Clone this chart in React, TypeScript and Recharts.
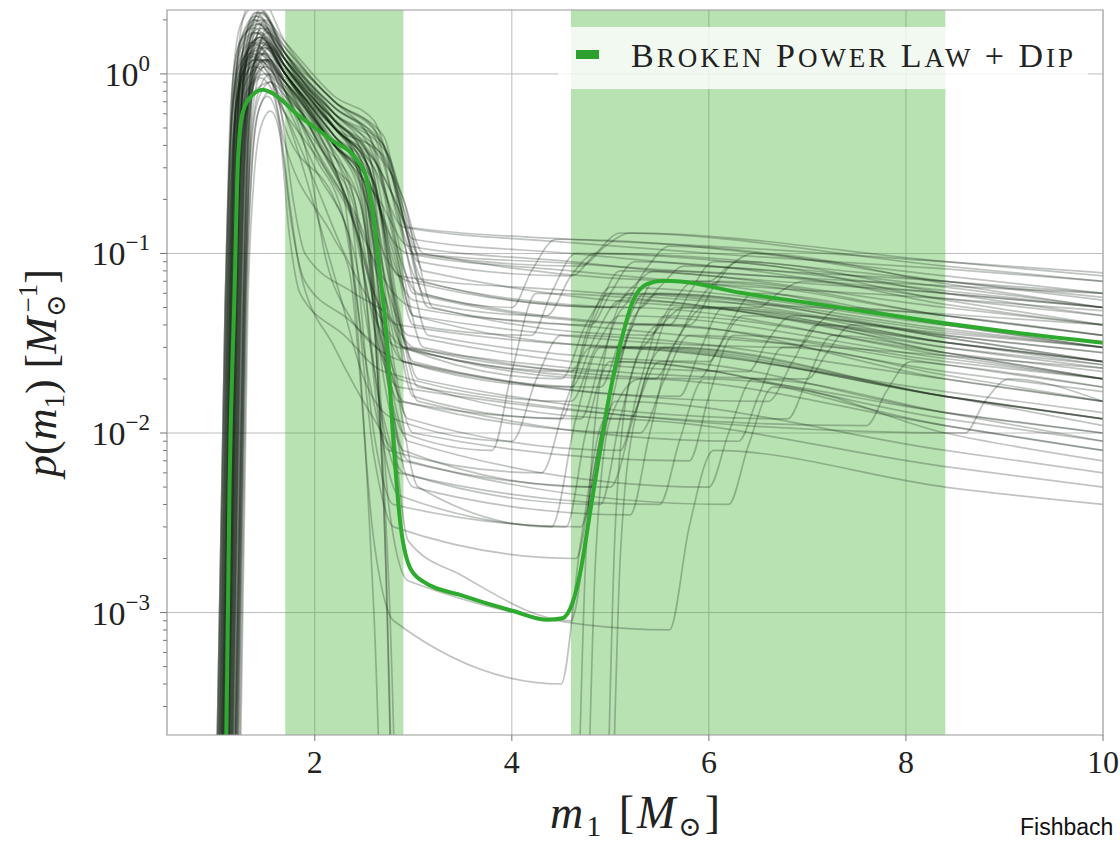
import React from 'react';
import { ComposedChart, Line, XAxis, YAxis, ReferenceArea, ReferenceLine } from 'recharts';

const X_DOMAIN = [0.5, 10];
const Y_DOMAIN = [2.08e-4, 2.27];
const X_TICKS = [2, 4, 6, 8, 10];
const X_GRID = [2, 4, 6, 8];
const Y_MAJOR = [1e-3, 1e-2, 1e-1, 1];
const Y_MINOR = [3e-4, 4e-4, 5e-4, 6e-4, 7e-4, 8e-4, 9e-4, 2e-3, 3e-3, 4e-3, 5e-3, 6e-3, 7e-3, 8e-3, 9e-3,
  0.02, 0.03, 0.04, 0.05, 0.06, 0.07, 0.08, 0.09, 0.2, 0.3, 0.4, 0.5, 0.6, 0.7, 0.8, 0.9, 2];
const BAND_LOW = [1.7, 2.9];
const BAND_HIGH = [4.6, 8.4];

// main model curve (Broken Power Law + Dip)
const greenCurve = [
  [1.08, 1e-5], [1.102, 2e-4], [1.135, 5.2e-3], [1.186, 0.062], [1.22, 0.33], [1.268, 0.61], [1.369, 0.764],
  [1.471, 0.815], [1.542, 0.794], [1.847, 0.58], [2.183, 0.424], [2.427, 0.332], [2.529, 0.257], [2.59, 0.166],
  [2.66, 0.079], [2.732, 0.033], [2.793, 0.0098], [2.864, 0.0033], [2.966, 0.00178], [3.098, 0.00149],
  [3.505, 0.00124], [4.013, 0.00102], [4.36, 0.000912], [4.513, 0.00093], [4.615, 0.00113], [4.696, 0.00169],
  [4.798, 0.00373], [4.97, 0.014], [5.1, 0.031], [5.234, 0.0551], [5.376, 0.0677], [5.539, 0.0704],
  [5.712, 0.0697], [6.32, 0.0604], [7.005, 0.0531], [7.677, 0.0467], [8.359, 0.0411], [9.04, 0.0366], [10, 0.0318],
];

// posterior draws
const d01 = [[1.00,1e-4],[1.09,0.05],[1.15,0.72],[1.23,1.44],[1.38,1.8],[1.7,1.1],[2.2,0.55],[2.4,0.35],[2.65,0.05],[2.85,0.02],[5.2,0.012],[5.4,0.024],[5.65,0.05],[8.4,0.032],[10,0.025]];
const d02 = [[1.02,1e-4],[1.11,0.05],[1.17,0.96],[1.25,1.9],[1.40,2.4],[1.7,1.3],[2.2,0.6],[2.55,0.4],[2.8,0.15],[3.0,0.06],[5.6,0.04],[5.8,0.06],[6.05,0.09],[8.4,0.055],[10,0.04]];
const d03 = [[1.04,1e-4],[1.13,0.05],[1.19,0.6],[1.27,1.2],[1.42,1.5],[1.7,1.0],[2.2,0.45],[2.45,0.3],[2.7,0.02],[2.9,0.008],[4.8,0.005],[5.0,0.014],[5.25,0.04],[8.4,0.024],[10,0.018]];
const d04 = [[1.05,1e-4],[1.14,0.05],[1.20,0.8],[1.28,1.6],[1.45,2.0],[1.7,1.4],[2.2,0.7],[2.65,0.45],[2.9,0.2],[3.1,0.1],[6.0,0.07],[6.2,0.085],[6.45,0.1],[8.4,0.068],[10,0.05]];
const d05 = [[1.06,1e-4],[1.15,0.05],[1.21,0.48],[1.29,0.96],[1.45,1.2],[1.7,0.9],[2.2,0.35],[2.35,0.2],[2.6,0.01],[2.8,0.004],[4.7,0.003],[4.9,0.0095],[5.15,0.03],[8.4,0.016],[10,0.012]];
const d06 = [[1.08,1e-4],[1.17,0.05],[1.23,0.88],[1.31,1.76],[1.40,2.2],[1.7,1.1],[2.2,0.5],[2.5,0.3],[2.75,0.075],[2.95,0.03],[5.0,0.02],[5.2,0.037],[5.45,0.07],[8.4,0.04],[10,0.03]];
const d07 = [[1.08,1e-4],[1.17,0.05],[1.23,0.4],[1.31,0.8],[1.5,1.0],[1.7,0.8],[2.2,0.4],[2.6,0.25],[2.85,0.038],[3.05,0.015],[6.3,0.009],[6.5,0.016],[6.75,0.03],[8.4,0.021],[10,0.015]];
const d08 = [[1.10,1e-4],[1.19,0.05],[1.25,0.64],[1.33,1.28],[1.45,1.6],[1.7,1.0],[2.2,0.5],[2.7,0.35],[3.0,0.12],[4.6,0.1],[6.0,0.085],[8.4,0.07],[10,0.06]];
const d09 = [[1.10,1e-4],[1.19,0.05],[1.25,0.36],[1.33,0.72],[1.55,0.9],[1.7,0.75],[2.2,0.3],[2.3,0.2],[2.6,0.001],[2.75,1e-5],[4.7,1e-5],[4.85,0.002],[5.0,0.012],[5.3,0.02],[8.4,0.011],[10,0.008]];
const d10 = [[1.11,1e-4],[1.20,0.05],[1.26,0.76],[1.34,1.52],[1.42,1.9],[1.7,1.2],[2.2,0.6],[2.75,0.3],[3.0,0.12],[3.2,0.05],[5.4,0.035],[5.6,0.05],[5.85,0.07],[8.4,0.045],[10,0.035]];
const d11 = [[1.12,1e-4],[1.21,0.05],[1.27,0.52],[1.35,1.04],[1.5,1.3],[1.7,1.0],[2.2,0.45],[2.55,0.3],[2.8,0.025],[3.0,0.01],[5.8,0.007],[6.0,0.016],[6.25,0.035],[8.4,0.025],[10,0.02]];
const d12 = [[1.13,1e-4],[1.22,0.05],[1.28,0.68],[1.36,1.36],[1.45,1.7],[1.7,1.1],[2.2,0.55],[2.65,0.3],[2.9,0.15],[3.1,0.07],[5.0,0.05],[5.2,0.063],[5.45,0.08],[8.4,0.06],[10,0.05]];
const d13 = [[1.14,1e-4],[1.23,0.05],[1.29,0.92],[1.37,1.84],[1.45,2.3],[1.7,1.3],[2.2,0.5],[2.45,0.3],[2.7,0.06],[2.9,0.025],[4.9,0.018],[5.1,0.033],[5.35,0.06],[8.4,0.038],[10,0.03]];
const d14 = [[1.15,1e-4],[1.24,0.05],[1.30,0.44],[1.38,0.88],[1.5,1.1],[1.7,0.8],[2.2,0.3],[2.4,0.18],[2.65,0.015],[2.85,0.006],[5.5,0.004],[5.7,0.009],[5.95,0.02],[8.4,0.013],[10,0.01]];
const d15 = [[1.16,1e-4],[1.25,0.05],[1.31,0.6],[1.39,1.2],[1.48,1.5],[1.7,1.0],[2.2,0.5],[2.6,0.3],[2.9,0.14],[4.6,0.115],[6.0,0.1],[8.4,0.082],[10,0.07]];
const d16 = [[1.22,1e-4],[1.30,0.05],[1.36,0.3],[1.42,0.6],[1.52,0.75],[1.63,0.55],[1.74,0.13],[1.85,0.06],[2.3,0.035],[2.7,0.022],[4.6,0.015],[4.85,0.03],[5.1,0.045],[8.4,0.026],[10,0.02]];
const d17 = [[1.18,1e-4],[1.27,0.05],[1.33,0.8],[1.41,1.6],[1.5,2.0],[1.7,1.3],[2.2,0.65],[2.7,0.4],[2.95,0.09],[3.15,0.035],[6.0,0.025],[6.2,0.039],[6.45,0.06],[8.4,0.04],[10,0.03]];
const d18 = [[1.19,1e-4],[1.28,0.05],[1.34,0.56],[1.42,1.12],[1.55,1.4],[1.7,1.1],[2.2,0.5],[2.5,0.3],[2.75,0.03],[2.95,0.012],[5.1,0.008],[5.3,0.019],[5.55,0.045],[8.4,0.028],[10,0.022]];
const d19 = [[1.20,1e-4],[1.29,0.05],[1.35,0.4],[1.43,0.8],[1.55,1.0],[1.7,0.5],[2.2,0.2],[2.35,0.12],[2.6,0.0075],[2.8,0.003],[4.65,0.002],[4.85,0.007],[5.1,0.025],[8.4,0.011],[10,0.008]];
const d20 = [[1.21,1e-4],[1.30,0.05],[1.36,0.72],[1.44,1.44],[1.52,1.8],[1.7,1.2],[2.2,0.55],[2.65,0.35],[2.9,0.2],[3.1,0.08],[6.5,0.05],[6.7,0.06],[6.95,0.07],[8.4,0.052],[10,0.04]];
const d21 = [[1.03,1e-4],[1.12,0.05],[1.18,0.48],[1.26,0.96],[1.4,1.2],[1.7,0.9],[2.2,0.4],[2.55,0.25],[2.8,0.1],[3.0,0.04],[4.2,0.035],[4.4,0.06],[4.65,0.1],[8.4,0.065],[10,0.05]];
const d22 = [[1.07,1e-4],[1.16,0.05],[1.22,0.64],[1.30,1.28],[1.45,1.6],[1.7,1.0],[2.2,0.45],[2.45,0.28],[2.72,0.002],[2.85,1e-5],[4.9,1e-5],[5.05,0.003],[5.2,0.02],[5.5,0.04],[8.4,0.02],[10,0.015]];
const d23 = [[1.09,1e-4],[1.18,0.05],[1.24,0.8],[1.32,1.6],[1.38,2.0],[1.7,1.1],[2.2,0.5],[2.6,0.3],[2.85,0.05],[3.05,0.02],[6.8,0.012],[7.0,0.02],[7.25,0.035],[8.4,0.028],[10,0.02]];
const d24 = [[1.12,1e-4],[1.21,0.05],[1.27,0.6],[1.35,1.2],[1.45,1.5],[1.7,1.0],[2.2,0.4],[2.55,0.25],[2.8,0.11],[3.0,0.045],[5.3,0.03],[5.5,0.039],[5.75,0.05],[8.4,0.036],[10,0.03]];
const d25 = [[1.14,1e-4],[1.23,0.05],[1.29,0.48],[1.37,0.96],[1.5,1.2],[1.7,0.9],[2.2,0.35],[2.4,0.2],[2.65,0.038],[2.85,0.015],[4.7,0.012],[4.9,0.025],[5.15,0.05],[8.4,0.027],[10,0.02]];
const d26 = [[1.01,1e-4],[1.10,0.05],[1.16,0.76],[1.24,1.52],[1.42,1.9],[1.7,1.2],[2.2,0.6],[2.75,0.35],[3.05,0.1],[4.6,0.088],[6.0,0.078],[8.4,0.066],[10,0.06]];
const d27 = [[1.06,1e-4],[1.15,0.05],[1.21,0.56],[1.29,1.12],[1.48,1.4],[1.7,1.0],[2.2,0.45],[2.5,0.28],[2.75,0.022],[2.95,0.009],[6.0,0.005],[6.2,0.01],[6.45,0.02],[8.4,0.013],[10,0.009]];
const d28 = [[1.10,1e-4],[1.19,0.05],[1.25,0.68],[1.33,1.36],[1.42,1.7],[1.7,1.1],[2.2,0.5],[2.65,0.3],[2.9,0.15],[3.1,0.06],[4.0,0.05],[4.2,0.08],[4.45,0.12],[8.4,0.075],[10,0.06]];
const d29 = [[1.13,1e-4],[1.22,0.05],[1.28,0.44],[1.36,0.88],[1.5,1.1],[1.7,0.4],[2.2,0.12],[2.35,0.08],[2.6,0.0025],[2.8,0.0009],[4.5,0.0004],[4.7,0.0025],[4.95,0.012],[8.4,0.0065],[10,0.005]];
const d30 = [[1.16,1e-4],[1.25,0.05],[1.31,0.88],[1.39,1.76],[1.47,2.2],[1.7,1.2],[2.2,0.55],[2.55,0.35],[2.8,0.06],[3.0,0.025],[5.7,0.016],[5.9,0.028],[6.15,0.05],[8.4,0.032],[10,0.025]];
const d31 = [[1.05,1e-4],[1.14,0.05],[1.20,0.52],[1.28,1.04],[1.42,1.3],[1.7,0.9],[2.2,0.4],[2.65,0.2],[2.95,0.11],[4.6,0.09],[6.0,0.075],[8.4,0.06],[10,0.05]];
const d32 = [[1.18,1e-4],[1.27,0.05],[1.33,0.64],[1.41,1.28],[1.5,1.6],[1.7,1.1],[2.2,0.5],[2.55,0.3],[2.8,0.0125],[3.0,0.005],[5.2,0.0035],[5.4,0.01],[5.65,0.03],[8.4,0.016],[10,0.012]];
const d33 = [[1.11,1e-4],[1.20,0.05],[1.26,0.38],[1.34,0.76],[1.45,0.95],[1.7,0.6],[2.2,0.25],[2.45,0.15],[2.7,0.06],[2.9,0.03],[7.0,0.02],[7.2,0.028],[7.45,0.04],[8.4,0.034],[10,0.025]];
const d34 = [[1.04,1e-4],[1.13,0.05],[1.19,0.84],[1.27,1.68],[1.4,2.1],[1.7,1.2],[2.2,0.6],[2.7,0.4],[2.95,0.12],[3.15,0.05],[4.8,0.04],[5.0,0.06],[5.25,0.09],[8.4,0.056],[10,0.045]];
const d35 = [[1.09,1e-4],[1.18,0.05],[1.24,0.52],[1.32,1.04],[1.45,1.3],[1.7,0.95],[2.2,0.45],[2.6,0.25],[2.85,0.045],[3.05,0.018],[8.6,0.01],[8.8,0.015],[9.05,0.02],[10,0.015]];
const d36 = [[1.19,1e-4],[1.28,0.05],[1.34,0.6],[1.42,1.2],[1.52,1.5],[1.7,1.0],[2.2,0.4],[2.45,0.22],[2.75,0.0015],[2.9,1e-5],[4.6,1e-5],[4.75,0.002],[4.9,0.02],[5.2,0.06],[8.4,0.037],[10,0.03]];
const d37 = [[1.02,1e-4],[1.11,0.05],[1.17,0.44],[1.25,0.88],[1.38,1.1],[1.7,0.7],[2.2,0.3],[2.45,0.2],[2.7,0.025],[2.9,0.01],[3.8,0.008],[4.0,0.022],[4.25,0.06],[8.4,0.032],[10,0.025]];
const d38 = [[1.15,1e-4],[1.24,0.05],[1.30,0.72],[1.38,1.44],[1.47,1.8],[1.7,1.1],[2.2,0.55],[2.65,0.3],[2.9,0.075],[3.1,0.03],[5.9,0.02],[6.1,0.03],[6.35,0.045],[8.4,0.028],[10,0.02]];
const d39 = [[1.07,1e-4],[1.16,0.05],[1.22,0.64],[1.30,1.28],[1.43,1.6],[1.7,1.0],[2.2,0.5],[2.55,0.3],[2.85,0.075],[4.6,0.062],[6.0,0.054],[8.4,0.046],[10,0.04]];
const d40 = [[1.20,1e-4],[1.29,0.05],[1.35,0.48],[1.43,0.96],[1.55,1.2],[1.7,0.9],[2.2,0.4],[2.5,0.25],[2.75,0.0175],[2.95,0.007],[6.2,0.004],[6.4,0.0085],[6.65,0.018],[8.4,0.01],[10,0.007]];
const d41 = [[1.24,1e-4],[1.32,0.05],[1.38,0.25],[1.45,0.5],[1.55,0.62],[1.65,0.45],[1.76,0.15],[1.9,0.07],[2.4,0.04],[2.8,0.02],[3.05,0.005],[4.4,0.003],[4.65,0.012],[4.9,0.03],[8.4,0.016],[10,0.011]];
const d42 = [[1.21,1e-4],[1.29,0.05],[1.35,0.35],[1.42,0.7],[1.55,0.9],[1.66,0.6],[1.78,0.2],[1.9,0.1],[2.4,0.06],[2.75,0.045],[3.0,0.03],[5.0,0.022],[5.25,0.045],[5.5,0.06],[8.4,0.035],[10,0.028]];
const d43 = [[1.00,1e-4],[1.09,0.05],[1.15,0.5],[1.23,1.0],[1.36,1.25],[1.7,0.85],[2.2,0.4],[2.5,0.25],[2.75,0.004],[2.95,0.0015],[5.6,0.0008],[5.8,0.003],[6.05,0.008],[8.4,0.005],[10,0.004]];
const d44 = [[1.06,1e-4],[1.15,0.05],[1.21,1.1],[1.29,2.2],[1.42,2.8],[1.7,1.5],[2.2,0.7],[2.6,0.5],[2.85,0.15],[3.05,0.07],[5.3,0.05],[5.5,0.065],[5.75,0.085],[8.4,0.062],[10,0.05]];
const d45 = [[1.12,1e-4],[1.21,0.05],[1.27,0.9],[1.35,1.8],[1.45,2.2],[1.7,1.4],[2.2,0.7],[2.7,0.45],[2.95,0.14],[4.6,0.12],[6.0,0.11],[8.4,0.09],[10,0.078]];
const d46 = [[1.03,1e-4],[1.12,0.05],[1.18,0.5],[1.26,1.0],[1.4,1.2],[1.7,0.6],[2.0,0.25],[2.3,0.1],[2.6,0.05],[2.9,0.03],[4.5,0.02],[4.75,0.04],[5.0,0.06],[8.4,0.035],[10,0.028]];
const d47 = [[1.08,1e-4],[1.17,0.05],[1.23,0.6],[1.31,1.2],[1.42,1.4],[1.7,0.7],[2.0,0.3],[2.4,0.1],[2.7,0.012],[2.9,0.006],[4.9,0.004],[5.1,0.012],[5.35,0.03],[8.4,0.016],[10,0.012]];
const d48 = [[1.11,1e-4],[1.20,0.05],[1.26,0.7],[1.34,1.4],[1.45,1.6],[1.7,0.9],[2.0,0.45],[2.35,0.18],[2.6,0.06],[2.85,0.04],[5.6,0.03],[5.85,0.05],[6.1,0.07],[8.4,0.045],[10,0.035]];
const d49 = [[1.01,1e-4],[1.10,0.05],[1.16,0.6],[1.24,1.2],[1.36,1.5],[1.7,0.8],[1.95,0.3],[2.1,0.1],[2.3,0.05],[2.9,0.025],[4.6,0.018],[4.85,0.035],[5.1,0.055],[8.4,0.03],[10,0.024]];
const d50 = [[1.17,1e-4],[1.26,0.05],[1.32,0.6],[1.40,1.2],[1.5,1.45],[1.7,1.1],[2.1,0.6],[2.5,0.25],[2.75,0.06],[2.95,0.035],[6.4,0.022],[6.6,0.033],[6.85,0.045],[8.4,0.034],[10,0.025]];
const d51 = [[1.05,1e-4],[1.14,0.05],[1.20,0.7],[1.28,1.4],[1.4,1.7],[1.7,1.0],[2.1,0.4],[2.5,0.12],[2.8,0.06],[3.0,0.05],[4.6,0.04],[6.0,0.034],[8.4,0.027],[10,0.023]];
const d52 = [[1.13,1e-4],[1.22,0.05],[1.28,0.5],[1.36,1.0],[1.48,1.2],[1.7,0.8],[2.0,0.35],[2.3,0.15],[2.55,0.02],[2.75,0.008],[4.3,0.006],[4.55,0.015],[4.8,0.03],[8.4,0.017],[10,0.013]];
const d53 = [[1.09,1e-4],[1.18,0.05],[1.24,0.9],[1.32,1.8],[1.42,2.2],[1.7,1.5],[2.2,0.75],[2.6,0.55],[2.85,0.2],[3.05,0.09],[4.6,0.075],[4.85,0.1],[5.1,0.13],[8.4,0.085],[10,0.07]];
const d54 = [[1.15,1e-4],[1.24,0.05],[1.30,0.5],[1.38,1.0],[1.5,1.2],[1.75,0.7],[2.1,0.3],[2.45,0.12],[2.7,0.03],[2.9,0.015],[5.3,0.01],[5.55,0.02],[5.8,0.035],[8.4,0.022],[10,0.017]];
const d55 = [[1.02,1e-4],[1.11,0.05],[1.17,0.7],[1.25,1.4],[1.38,1.7],[1.7,1.2],[2.2,0.65],[2.6,0.45],[2.8,0.2],[3.0,0.1],[4.7,0.085],[4.95,0.11],[5.2,0.13],[8.4,0.09],[10,0.075]];
const d56 = [[1.07,1e-4],[1.16,0.05],[1.22,0.45],[1.30,0.9],[1.45,1.1],[1.75,0.5],[2.0,0.18],[2.25,0.06],[2.5,0.02],[2.8,0.012],[4.0,0.009],[4.25,0.02],[4.5,0.035],[8.4,0.02],[10,0.015]];
const d57 = [[1.19,1e-4],[1.28,0.05],[1.34,0.7],[1.42,1.4],[1.52,1.7],[1.7,1.3],[2.2,0.7],[2.6,0.4],[2.85,0.1],[3.05,0.06],[5.8,0.04],[6.05,0.065],[6.3,0.09],[8.4,0.06],[10,0.045]];
const d58 = [[1.04,1e-4],[1.13,0.05],[1.19,0.55],[1.27,1.1],[1.4,1.35],[1.7,0.75],[2.05,0.35],[2.4,0.15],[2.65,0.05],[2.9,0.025],[6.6,0.015],[6.85,0.025],[7.1,0.04],[8.4,0.032],[10,0.024]];
const d59 = [[1.12,1e-4],[1.21,0.05],[1.27,0.8],[1.35,1.6],[1.45,1.9],[1.7,1.2],[2.2,0.55],[2.5,0.35],[2.7,0.08],[2.9,0.03],[4.6,0.022],[4.85,0.045],[5.1,0.08],[8.4,0.05],[10,0.04]];
const d60 = [[1.00,1e-4],[1.09,0.05],[1.15,0.55],[1.23,1.1],[1.35,1.3],[1.7,0.8],[2.1,0.4],[2.45,0.2],[2.7,0.004],[2.85,1e-5],[4.95,1e-5],[5.1,0.002],[5.25,0.012],[5.55,0.03],[8.4,0.016],[10,0.012]];
const d61 = [[1.16,1e-4],[1.25,0.05],[1.31,0.6],[1.39,1.2],[1.5,1.4],[1.7,1.0],[2.1,0.5],[2.45,0.25],[2.7,0.1],[2.95,0.07],[5.1,0.05],[5.35,0.08],[5.6,0.11],[8.4,0.07],[10,0.055]];
const d62 = [[1.06,1e-4],[1.15,0.05],[1.21,0.65],[1.29,1.3],[1.42,1.55],[1.7,1.0],[2.1,0.45],[2.4,0.2],[2.65,0.012],[2.85,0.0045],[4.55,0.003],[4.75,0.01],[5.0,0.025],[8.4,0.012],[10,0.009]];
const d63 = [[1.10,1e-4],[1.19,0.05],[1.25,0.75],[1.33,1.5],[1.44,1.8],[1.7,1.2],[2.15,0.6],[2.5,0.35],[2.75,0.13],[2.95,0.1],[4.6,0.08],[6.0,0.068],[8.4,0.056],[10,0.048]];
const d64 = [[1.14,1e-4],[1.23,0.05],[1.29,0.55],[1.37,1.1],[1.48,1.3],[1.7,0.85],[2.1,0.35],[2.4,0.15],[2.65,0.03],[2.85,0.018],[7.6,0.011],[7.8,0.017],[8.05,0.025],[8.4,0.024],[10,0.018]];
const d65 = [[1.03,1e-4],[1.12,0.05],[1.18,0.8],[1.26,1.6],[1.4,2.0],[1.7,1.3],[2.2,0.6],[2.55,0.35],[2.8,0.05],[3.0,0.016],[4.5,0.012],[4.75,0.035],[5.0,0.065],[8.4,0.04],[10,0.032]];
const d66 = [[1.18,1e-4],[1.27,0.05],[1.33,0.5],[1.41,1.0],[1.52,1.2],[1.7,0.9],[2.0,0.45],[2.35,0.18],[2.6,0.045],[2.85,0.03],[5.45,0.02],[5.7,0.035],[5.95,0.05],[8.4,0.03],[10,0.023]];
const d67 = [[1.08,1e-4],[1.17,0.05],[1.23,0.85],[1.31,1.7],[1.42,2.1],[1.7,1.3],[2.2,0.65],[2.55,0.45],[2.8,0.12],[3.0,0.045],[6.9,0.03],[7.1,0.04],[7.35,0.05],[8.4,0.045],[10,0.035]];
const d68 = [[1.23,1e-4],[1.31,0.05],[1.37,0.35],[1.44,0.65],[1.55,0.8],[1.64,0.55],[1.74,0.2],[1.85,0.08],[2.2,0.03],[2.6,0.012],[2.9,0.007],[5.0,0.005],[5.25,0.013],[5.5,0.025],[8.4,0.013],[10,0.01]];
const d69 = [[1.11,1e-4],[1.20,0.05],[1.26,0.65],[1.34,1.3],[1.46,1.55],[1.7,1.05],[2.2,0.5],[2.55,0.3],[2.8,0.09],[3.0,0.055],[4.35,0.045],[4.6,0.075],[4.85,0.1],[8.4,0.07],[10,0.057]];
const d70 = [[1.05,1e-4],[1.14,0.05],[1.20,0.6],[1.28,1.2],[1.4,1.45],[1.7,0.9],[2.2,0.4],[2.5,0.22],[2.75,0.02],[2.95,0.0025],[3.5,0.0016],[4.6,0.0009],[4.8,0.004],[5.05,0.015],[8.4,0.008],[10,0.006]];

const DRAWS = [d01, d02, d03, d04, d05, d06, d07, d08, d09, d10, d11, d12, d13, d14, d15, d16, d17, d18, d19, d20,
  d21, d22, d23, d24, d25, d26, d27, d28, d29, d30, d31, d32, d33, d34, d35, d36, d37, d38, d39, d40, d41, d42, d43,
  d44, d45, d46, d47, d48, d49, d50, d51, d52, d53, d54, d55, d56, d57, d58, d59, d60, d61, d62, d63, d64, d65, d66,
  d67, d68, d69, d70];

const toRows = (pts: number[][]) => pts.map(([x, y]) => ({ x, y }));

const SERIF = '"Liberation Serif", "DejaVu Serif", serif';

function YTick(props: any) {
  const { x, y, payload } = props;
  const v = payload.value;
  const major = Y_MAJOR.includes(v);
  const exp = Math.round(Math.log10(v));
  const expText = exp < 0 ? '\u2212' + String(-exp) : String(exp);
  return (
    <g>
      <line x1={x - (major ? 7 : 4)} x2={x} y1={y} y2={y} stroke="#777" strokeWidth={1} />
      {major && (
        <text x={x - 17} y={y + 12} textAnchor="end" fontFamily={SERIF} fontSize={34} fill="#222">
          <tspan>10</tspan>
          <tspan dy={-15} fontSize={23}>{expText}</tspan>
        </text>
      )}
    </g>
  );
}

function XTick(props: any) {
  const { x, y, payload } = props;
  return (
    <g>
      <line x1={x} x2={x} y1={y} y2={y + 6} stroke="#777" strokeWidth={1} />
      <text x={x} y={y + 38} textAnchor="middle" fontFamily={SERIF} fontSize={32} fill="#222">
        {payload.value}
      </text>
    </g>
  );
}

export default function App() {
  return (
    <div style={{ position: 'absolute', left: 0, top: 0, width: 1120, height: 845, overflow: 'hidden', background: '#fff' }}>
      <ComposedChart width={1120} height={845} margin={{ top: 10, right: 17, left: 67, bottom: 50 }}>
        <XAxis dataKey="x" type="number" domain={X_DOMAIN} allowDataOverflow ticks={X_TICKS} interval={0}
          tick={<XTick />} tickLine={false} axisLine={false} tickSize={0} tickMargin={0} height={60} />
        <YAxis type="number" scale="log" domain={Y_DOMAIN} allowDataOverflow ticks={[...Y_MINOR, ...Y_MAJOR]} interval={0}
          tick={<YTick />} tickLine={false} axisLine={false} tickSize={0} tickMargin={0} width={100} />
        {X_GRID.map((g) => (
          <ReferenceLine key={'gx' + g} x={g} stroke="#bdbdbd" strokeWidth={1} zIndex={300} />
        ))}
        {Y_MAJOR.map((g) => (
          <ReferenceLine key={'gy' + g} y={g} stroke="#bdbdbd" strokeWidth={1} zIndex={300} />
        ))}
        <ReferenceArea x1={BAND_LOW[0]} x2={BAND_LOW[1]} fill="rgb(60,175,45)" fillOpacity={0.36} stroke="none" zIndex={350} />
        <ReferenceArea x1={BAND_HIGH[0]} x2={BAND_HIGH[1]} fill="rgb(60,175,45)" fillOpacity={0.36} stroke="none" zIndex={350} />
        {DRAWS.map((d, i) => (
          <Line key={'d' + i} data={toRows(d)} dataKey="y" type="monotone" stroke="#0a1a0a" strokeOpacity={0.26}
            strokeWidth={1.7} dot={false} activeDot={false} isAnimationActive={false} zIndex={400} />
        ))}
        <Line data={toRows(greenCurve)} dataKey="y" type="monotone" stroke="#2eaa2e" strokeWidth={4}
          dot={false} activeDot={false} isAnimationActive={false} zIndex={500} />
        <ReferenceArea x1={X_DOMAIN[0]} x2={X_DOMAIN[1]} y1={Y_DOMAIN[0]} y2={Y_DOMAIN[1]} fill="none"
          stroke="#9a9a9a" strokeWidth={1.2} zIndex={550} />
      </ComposedChart>
      <svg width={1120} height={845} style={{ position: 'absolute', left: 0, top: 0, pointerEvents: 'none' }}>
        <rect x={558} y={27} width={530} height={62} rx={4} fill="#fff" fillOpacity={0.8} />
        <rect x={576} y={50} width={23} height={9} fill="#2ca02c" />
        <text x={631} y={67} fontFamily={SERIF} fontSize={34} fill="#222" textLength={442} lengthAdjust="spacing">
          <tspan>B</tspan><tspan fontSize={27}>ROKEN</tspan><tspan> P</tspan><tspan fontSize={27}>OWER</tspan>
          <tspan> L</tspan><tspan fontSize={27}>AW</tspan><tspan> + D</tspan><tspan fontSize={27}>IP</tspan>
        </text>
        <text x={550} y={828} fontFamily={SERIF} fontSize={46} fill="#222" textLength={170} lengthAdjust="spacing">
          <tspan fontStyle="italic">m</tspan>
          <tspan fontSize={30} dy={8}>1</tspan>
          <tspan dy={-8}> [</tspan>
          <tspan fontStyle="italic">M</tspan>
          <tspan fontSize={28} dy={8}>{'\u2299'}</tspan>
          <tspan dy={-8}>]</tspan>
        </text>
        <text x={56} y={373} transform="rotate(-90 56 373)" textAnchor="middle" fontFamily={SERIF} fontSize={44}
          fill="#222">
          <tspan fontStyle="italic">p</tspan>
          <tspan>(</tspan>
          <tspan fontStyle="italic">m</tspan>
          <tspan fontSize={29} dy={8}>1</tspan>
          <tspan dy={-8}>) [</tspan>
          <tspan fontStyle="italic">M</tspan>
          <tspan fontSize={27} dy={9}>{'\u2299'}</tspan>
          <tspan fontSize={27} dx={-18} dy={-28}>{'\u22121'}</tspan>
          <tspan dy={19}>]</tspan>
        </text>
        <text x={1020} y={835} fontFamily='"Liberation Sans", Arial, sans-serif' fontSize={23} fill="#111">Fishbach</text>
      </svg>
    </div>
  );
}
